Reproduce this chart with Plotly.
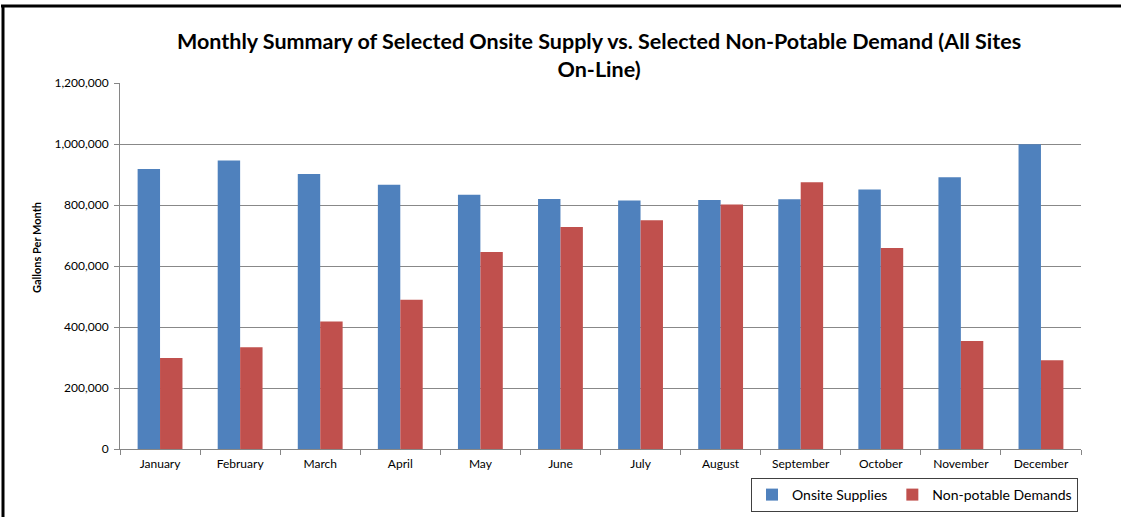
import plotly.graph_objects as go

months = ["January", "February", "March", "April", "May", "June", "July",
          "August", "September", "October", "November", "December"]
onsite_supplies = [918000, 946000, 902000, 866000, 834000, 820000, 815000,
                   816000, 819000, 851000, 891000, 999000]
nonpotable_demands = [298000, 334000, 418000, 489000, 646000, 728000, 750000,
                      802000, 875000, 659000, 354000, 291000]
y_ticks = [0, 200000, 400000, 600000, 800000, 1000000, 1200000]
y_tick_labels = ["0", "200,000", "400,000", "600,000", "800,000", "1,000,000", "1,200,000"]

FONT = "Lato"

fig = go.Figure()
fig.add_trace(go.Bar(x=months, y=onsite_supplies, name="Onsite Supplies",
                     marker=dict(color="#4F81BD", line=dict(width=0))))
fig.add_trace(go.Bar(x=months, y=nonpotable_demands, name="Non-potable Demands",
                     marker=dict(color="#C0504D", line=dict(width=0))))

L, R, T, B = 120, 40, 83, 68
W, H = 1121, 517
pw, ph = W - L - R, H - T - B

def px_x(x):
    return (x - L) / pw

def px_y(y):
    return (H - B - y) / ph

fig.update_layout(
    width=W, height=H,
    margin=dict(l=L, r=R, t=T, b=B, autoexpand=False),
    paper_bgcolor="white", plot_bgcolor="white",
    barmode="group", bargap=0.44, bargroupgap=0,
    font=dict(family=FONT, color="#000000"),
    showlegend=True,
    legend=dict(orientation="h", x=px_x(1078), xanchor="right",
                y=px_y(478), yanchor="top",
                bordercolor="#404040", borderwidth=1,
                font=dict(size=14, family=FONT),
                itemwidth=30, traceorder="normal"),
    xaxis=dict(type="category", showgrid=False, showline=True, linecolor="#868686",
               ticks="outside", tickson="boundaries", ticklen=5, tickcolor="#868686",
               ticklabelstandoff=4,
               tickfont=dict(size=12, family=FONT), fixedrange=True, automargin=False),
    yaxis=dict(range=[0, 1200000], tickvals=y_ticks, ticktext=y_tick_labels,
               showgrid=True, gridcolor="#888888", gridwidth=1,
               showline=True, linecolor="#868686", ticks="outside", ticklen=5,
               tickcolor="#868686", tickfont=dict(size=12, family=FONT),
               ticklabelstandoff=3,
               zeroline=False, automargin=False),
    annotations=[
        dict(text="<b>Monthly Summary of Selected Onsite Supply vs. Selected Non-Potable Demand (All Sites<br>On-Line)</b>",
             xref="paper", yref="paper", x=px_x(599), y=px_y(55), xanchor="center", yanchor="middle",
             showarrow=False, font=dict(size=21.5, family=FONT), align="center"),
        dict(text="<b>Gallons Per Month</b>", textangle=-90,
             xref="paper", yref="paper", x=px_x(37), y=px_y(248), xanchor="center", yanchor="middle",
             showarrow=False, font=dict(size=11, family=FONT)),
    ],
    shapes=[
        dict(type="line", xref="paper", yref="paper", x0=px_x(1), x1=px_x(1125),
             y0=px_y(6), y1=px_y(6), line=dict(color="black", width=3)),
        dict(type="line", xref="paper", yref="paper", x0=px_x(3), x1=px_x(3),
             y0=px_y(5), y1=px_y(520), line=dict(color="black", width=3)),
    ],
)

fig.write_html("out.html", config={"displayModeBar": False},
               post_script="document.body.style.margin='0px';document.body.style.overflow='hidden';")
